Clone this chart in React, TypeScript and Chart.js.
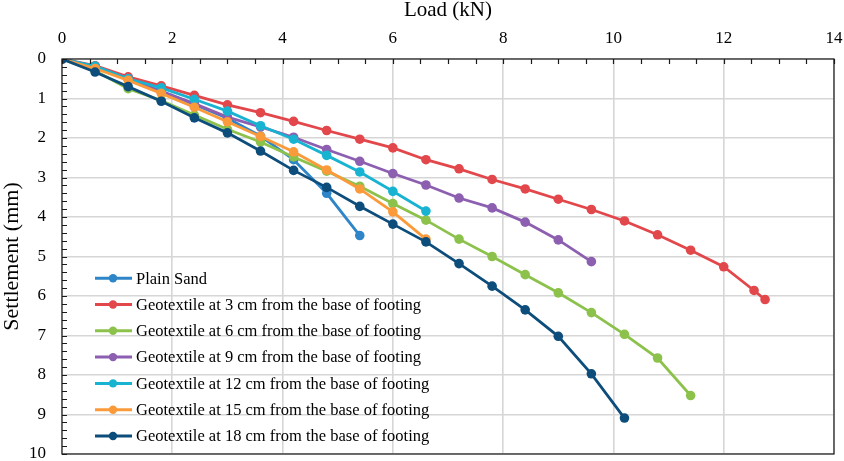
import React, { useEffect, useRef } from "react";
import { Chart, registerables } from "chart.js";

Chart.register(...registerables);

// ---- Data ----
const LOADS_PLAIN = [0, 0.6, 1.2, 1.8, 2.4, 3.0, 3.6, 4.2, 4.8, 5.4];
const SETTLE_PLAIN = [0, 0.2, 0.5, 0.82, 1.15, 1.5, 1.95, 2.55, 3.4, 4.47];

const LOADS_3CM = [0, 0.6, 1.2, 1.8, 2.4, 3.0, 3.6, 4.2, 4.8, 5.4, 6.0, 6.6, 7.2, 7.8, 8.4, 9.0, 9.6, 10.2, 10.8, 11.4, 12.0, 12.55, 12.75];
const SETTLE_3CM = [0, 0.17, 0.45, 0.68, 0.92, 1.16, 1.36, 1.58, 1.81, 2.03, 2.25, 2.55, 2.78, 3.05, 3.29, 3.55, 3.81, 4.1, 4.45, 4.84, 5.26, 5.86, 6.09];

const LOADS_6CM = [0, 0.6, 1.2, 1.8, 2.4, 3.0, 3.6, 4.2, 4.8, 5.4, 6.0, 6.6, 7.2, 7.8, 8.4, 9.0, 9.6, 10.2, 10.8, 11.4];
const SETTLE_6CM = [0, 0.3, 0.75, 1.05, 1.42, 1.78, 2.1, 2.48, 2.84, 3.22, 3.66, 4.08, 4.56, 5.0, 5.46, 5.92, 6.42, 6.97, 7.57, 8.52];

const LOADS_9CM = [0, 0.6, 1.2, 1.8, 2.4, 3.0, 3.6, 4.2, 4.8, 5.4, 6.0, 6.6, 7.2, 7.8, 8.4, 9.0, 9.6];
const SETTLE_9CM = [0, 0.2, 0.5, 0.82, 1.13, 1.47, 1.72, 1.98, 2.29, 2.59, 2.9, 3.19, 3.52, 3.77, 4.13, 4.58, 5.13];

const LOADS_12CM = [0, 0.6, 1.2, 1.8, 2.4, 3.0, 3.6, 4.2, 4.8, 5.4, 6.0, 6.6];
const SETTLE_12CM = [0, 0.18, 0.5, 0.73, 1.02, 1.32, 1.69, 2.03, 2.44, 2.86, 3.35, 3.85];

const LOADS_15CM = [0, 0.6, 1.2, 1.8, 2.4, 3.0, 3.6, 4.2, 4.8, 5.4, 6.0, 6.6];
const SETTLE_15CM = [0, 0.24, 0.54, 0.87, 1.22, 1.59, 1.96, 2.35, 2.81, 3.29, 3.87, 4.56];

const LOADS_18CM = [0, 0.6, 1.2, 1.8, 2.4, 3.0, 3.6, 4.2, 4.8, 5.4, 6.0, 6.6, 7.2, 7.8, 8.4, 9.0, 9.6, 10.2];
const SETTLE_18CM = [0, 0.33, 0.7, 1.07, 1.49, 1.87, 2.33, 2.82, 3.25, 3.73, 4.18, 4.63, 5.18, 5.75, 6.35, 7.02, 7.97, 9.09];

const SERIES_NAMES = [
  "Plain Sand",
  "Geotextile at 3 cm from the base of footing",
  "Geotextile at 6 cm from the base of footing",
  "Geotextile at 9 cm from the base of footing",
  "Geotextile at 12 cm from the base of footing",
  "Geotextile at 15 cm from the base of footing",
  "Geotextile at 18 cm from the base of footing",
];
const SERIES_COLORS = ["#2E86C8", "#E2474B", "#8CC24C", "#8C5FB0", "#19B3D2", "#FA9A3A", "#0D4D7B"];

const X_TITLE = "Load (kN)";
const Y_TITLE = "Settlement (mm)";
const X_MIN = 0, X_MAX = 14, X_STEP = 2, X_MINOR = 0.5;
const Y_MIN = 0, Y_MAX = 10, Y_STEP = 1, Y_MINOR = 0.2;

const FONT = "'Liberation Serif', 'Times New Roman', serif";
const W = 844, H = 461;

function pairs(xs: number[], ys: number[]) {
  return xs.map((x, i) => ({ x, y: ys[i] }));
}

function zeroPad(s: any) {
  s.paddingLeft = 0;
  s.paddingRight = 0;
  s.paddingTop = 0;
  s.paddingBottom = 0;
}

const frameAndMinorTicks = {
  id: "frameAndMinorTicks",
  afterDraw(chart: any) {
    const { ctx, chartArea } = chart;
    const xs = chart.scales.x;
    const ys = chart.scales.y;
    ctx.save();
    ctx.strokeStyle = "#1a1a1a";
    ctx.lineWidth = 1.2;
    ctx.strokeRect(chartArea.left, chartArea.top, chartArea.right - chartArea.left, chartArea.bottom - chartArea.top);
    ctx.beginPath();
    for (let v = X_MIN; v <= X_MAX + 1e-9; v += X_MINOR) {
      const px = Math.round(xs.getPixelForValue(v)) + 0.5;
      ctx.moveTo(px, chartArea.top);
      ctx.lineTo(px, chartArea.top + 5);
    }
    for (let v = Y_MIN; v <= Y_MAX + 1e-9; v += Y_MINOR) {
      const py = Math.round(ys.getPixelForValue(v)) + 0.5;
      ctx.moveTo(chartArea.left, py);
      ctx.lineTo(chartArea.left + 5, py);
    }
    ctx.stroke();

    // legend inside the plot, bottom-left
    const rowGap = 26.3;
    const n = chart.data.datasets.length;
    const x0 = chartArea.left + 33;
    ctx.font = `16.5px ${FONT}`;
    ctx.textBaseline = "middle";
    ctx.textAlign = "left";
    chart.data.datasets.forEach((ds: any, i: number) => {
      const y = chartArea.bottom - 18 - (n - 1 - i) * rowGap;
      ctx.strokeStyle = ds.borderColor;
      ctx.lineWidth = 3;
      ctx.beginPath();
      ctx.moveTo(x0, y);
      ctx.lineTo(x0 + 37, y);
      ctx.stroke();
      ctx.fillStyle = ds.borderColor;
      ctx.beginPath();
      ctx.arc(x0 + 18, y, 4.2, 0, Math.PI * 2);
      ctx.fill();
      ctx.fillStyle = "#000";
      ctx.fillText(ds.label, x0 + 41, y + 1);
    });
    ctx.restore();
  },
};

export default function App() {
  const canvasRef = useRef<HTMLCanvasElement | null>(null);

  useEffect(() => {
    if (!canvasRef.current) return;
    const allData = [
      pairs(LOADS_PLAIN, SETTLE_PLAIN),
      pairs(LOADS_3CM, SETTLE_3CM),
      pairs(LOADS_6CM, SETTLE_6CM),
      pairs(LOADS_9CM, SETTLE_9CM),
      pairs(LOADS_12CM, SETTLE_12CM),
      pairs(LOADS_15CM, SETTLE_15CM),
      pairs(LOADS_18CM, SETTLE_18CM),
    ];
    const chart = new Chart(canvasRef.current, {
      type: "scatter",
      data: {
        datasets: allData.map((d, i) => ({
          label: SERIES_NAMES[i],
          data: d,
          showLine: true,
          borderColor: SERIES_COLORS[i],
          backgroundColor: SERIES_COLORS[i],
          borderWidth: 2.8,
          pointRadius: 4.8,
          pointBorderWidth: 0,
          tension: 0,
          order: allData.length - i,
        })),
      },
      options: {
        animation: false,
        responsive: false,
        layout: { padding: { left: 0, top: 0, right: 10, bottom: 7 } },
        plugins: { legend: { display: false }, tooltip: { enabled: false } },
        scales: {
          x: {
            type: "linear",
            position: "top",
            min: X_MIN,
            max: X_MAX,
            ticks: { stepSize: X_STEP, color: "#000", font: { family: FONT, size: 17 }, padding: 10 },
            grid: { color: "#d6d6d6", lineWidth: 1.6, drawTicks: false },
            border: { display: false },
            title: { display: true, text: X_TITLE, color: "#000", font: { family: FONT, size: 21, lineHeight: 1 }, padding: { top: 0, bottom: 0 } },
            afterFit: (s: any) => { s.height = 59; zeroPad(s); },
          },
          y: {
            type: "linear",
            reverse: true,
            min: Y_MIN,
            max: Y_MAX,
            ticks: { stepSize: Y_STEP, color: "#000", font: { family: FONT, size: 17 }, padding: 16 },
            grid: { color: "#d6d6d6", lineWidth: 1.6, drawTicks: false },
            border: { display: false },
            title: { display: true, text: Y_TITLE, color: "#000", font: { family: FONT, size: 22, lineHeight: 1 }, padding: { top: 1, bottom: 0 } },
            afterFit: (s: any) => { s.width = 62; zeroPad(s); },
          },
        },
      },
      plugins: [frameAndMinorTicks],
    });
    return () => chart.destroy();
  }, []);

  return (
    <div style={{ position: "fixed", left: 0, top: 0, width: W, height: H, background: "#fff" }}>
      <canvas ref={canvasRef} width={W} height={H} style={{ display: "block", width: W, height: H }} />
    </div>
  );
}
